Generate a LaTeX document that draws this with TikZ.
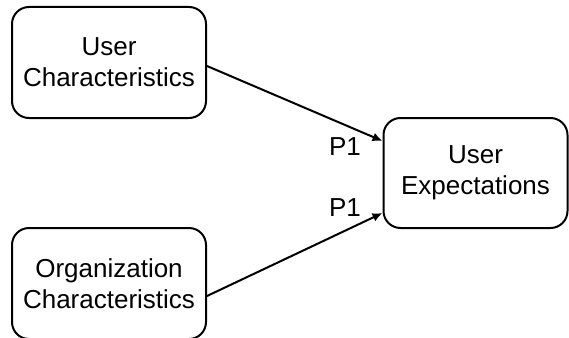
\documentclass[tikz,border=0pt]{standalone}
\usepackage{fontspec}
\setmainfont{Liberation Sans}
\usetikzlibrary{arrows.meta}
\begin{document}
\begin{tikzpicture}[x=1pt,y=-1pt,
  box/.style={draw=black, line width=2pt, rounded corners=17pt, fill=white,
    align=center, inner sep=0pt, font=\fontsize{26}{31}\selectfont},
  conn/.style={line width=2pt, -{Latex[length=10pt,width=9pt]}},
  lbl/.style={inner sep=0pt, anchor=base, font=\fontsize{26}{31}\selectfont}]
\useasboundingbox (0,0) rectangle (569,337);
\node[box, minimum width=194pt, minimum height=111pt] (uc) at (109,62.5) {User\\Characteristics};
\node[box, minimum width=194pt, minimum height=111pt] (oc) at (109,283.5) {Organization\\Characteristics};
\node[box, minimum width=184pt, minimum height=110pt] (ue) at (475.5,173) {User\\Expectations};
\draw[conn] ([yshift=-3.5pt]uc.east) -- ([yshift=32pt]ue.west);
\draw[conn] ([yshift=-12.5pt]oc.east) -- ([yshift=-40pt]ue.west);
\node[lbl] (p1a) at (345,155) {P1};
\node[lbl] (p1b) at (345,216) {P1};
\end{tikzpicture}
\end{document}
